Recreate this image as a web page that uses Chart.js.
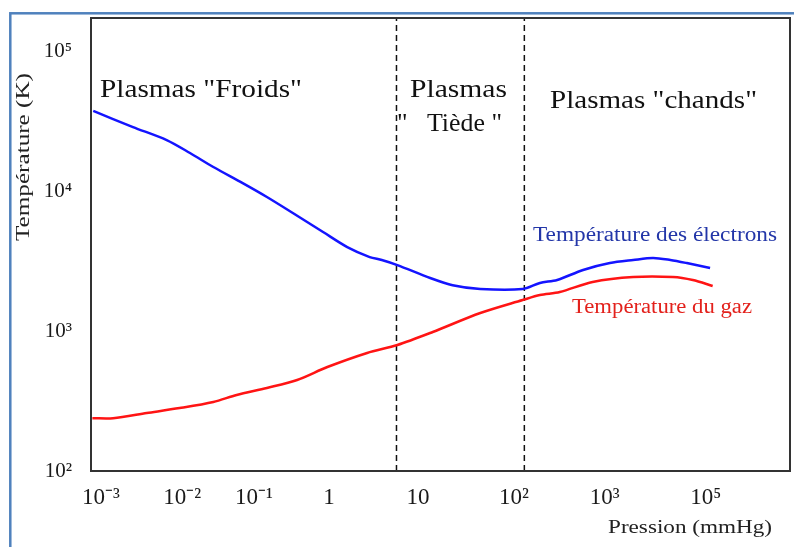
<!DOCTYPE html>
<html>
<head>
<meta charset="UTF-8">
<title>Températures des plasmas</title>
<script src="https://cdn.jsdelivr.net/npm/chart.js"></script>
<style>
  body { margin: 0; background: #fff; }
</style>
</head>
<body>
<canvas id="chart" width="794" height="547"></canvas>
<script>
// x = position along the pressure axis as drawn (0 = 10^-3, ticks are not evenly spaced)
const xTickPos = [0, 0.94, 1.77, 2.64, 3.67, 4.78, 5.83, 7.0];
const xTickLabels = ['10⁻³', '10⁻²', '10⁻¹', '1', '10', '10²', '10³', '10⁵'];
const yTicks = [100, 1000, 10000, 100000];
const yTickLabels = ['10²', '10³', '10⁴', '10⁵'];

// Température des électrons (K)
const elecX = [-0.09, 0.37, 0.76, 1.03, 1.30, 1.64, 1.92, 2.22, 2.57, 2.85, 3.11, 3.25, 3.43,
               3.81, 4.07, 4.39, 4.88, 5.08, 5.28, 5.58, 5.89, 6.16, 6.39, 6.59, 6.78, 7.05];
const elecT = [37800, 29000, 23400, 18900, 15000, 11500, 9150, 7030, 5140, 4010, 3400, 3240, 2980,
               2410, 2140, 2010, 2010, 2220, 2330, 2750, 3080, 3240, 3350, 3240, 3080, 2840];

// Température du gaz (K)
const gazX = [-0.10, 0.14, 0.53, 0.91, 1.30, 1.57, 1.92, 2.27, 2.62, 3.08, 3.43,
              3.84, 4.39, 4.88, 5.08, 5.31, 5.69, 6.16, 6.62, 6.85, 7.08];
const gazT = [239, 239, 260, 282, 312, 350, 393, 448, 555, 700, 798,
              989, 1352, 1675, 1820, 1911, 2254, 2447, 2447, 2328, 2110];

// frontières froid / tiède / chaud
const limits = [3.42, 4.90];

const xMin = -0.116, xMax = 7.975;
const yMin = 100, yMax = 175000;

const pts = (xs, ys) => xs.map((x, i) => ({ x: x, y: ys[i] }));
const serif = 'Liberation Serif, Times New Roman, serif';

function fitText(ctx, text, x, y, width, size, color, angle) {
  ctx.save();
  ctx.font = size + 'px ' + serif;
  ctx.fillStyle = color;
  ctx.textAlign = 'left';
  ctx.textBaseline = 'alphabetic';
  const w = ctx.measureText(text).width;
  ctx.translate(x, y);
  if (angle) ctx.rotate(angle);
  ctx.scale(width / w, 1);
  ctx.fillText(text, 0, 0);
  ctx.restore();
}

function noPad(s) {
  s.paddingTop = 0; s.paddingBottom = 0;
  s.paddingLeft = 0; s.paddingRight = 0;
}

const decor = {
  id: 'decor',
  beforeDraw(chart) {
    const ctx = chart.ctx;
    ctx.save();
    ctx.fillStyle = '#fff';
    ctx.fillRect(0, 0, chart.width, chart.height);
    ctx.strokeStyle = '#4f81bd';
    ctx.lineWidth = 2.5;
    ctx.strokeRect(10.3, 13.3, 800, 600);
    ctx.restore();
  },
  afterDraw(chart) {
    const ctx = chart.ctx;
    const a = chart.chartArea;
    ctx.save();
    ctx.strokeStyle = '#333';
    ctx.lineWidth = 2;
    ctx.strokeRect(a.left, a.top, a.right - a.left, a.bottom - a.top);
    ctx.restore();

    fitText(ctx, 'Plasmas "Froids"', 100, 97, 202, 26, '#111');
    fitText(ctx, 'Plasmas', 410, 97, 97, 26, '#111');
    fitText(ctx, '"   Tiède "', 397, 131, 105, 26, '#111');
    fitText(ctx, 'Plasmas "chands"', 550, 108, 207, 26, '#111');
    fitText(ctx, 'Température des électrons', 533, 241, 244, 20, '#2336a8');
    fitText(ctx, 'Température du gaz', 572, 313, 180, 20, '#e3211c');
    fitText(ctx, 'Pression (mmHg)', 608, 533, 164, 19, '#222');
    fitText(ctx, 'Température (K)', 29, 241, 168, 18, '#222', -Math.PI / 2);
  }
};

new Chart(document.getElementById('chart'), {
  type: 'line',
  data: {
    datasets: [
      { label: 'Température des électrons', data: pts(elecX, elecT),
        borderColor: '#1414ff', borderWidth: 2.5, pointRadius: 0, tension: 0.3 },
      { label: 'Température du gaz', data: pts(gazX, gazT),
        borderColor: '#ff1414', borderWidth: 2.5, pointRadius: 0, tension: 0.3 },
      { label: 'limite 1', data: [{ x: limits[0], y: yMin }, { x: limits[0], y: yMax }],
        borderColor: '#111', borderWidth: 1.5, borderDash: [6, 4], pointRadius: 0 },
      { label: 'limite 2', data: [{ x: limits[1], y: yMin }, { x: limits[1], y: yMax }],
        borderColor: '#111', borderWidth: 1.5, borderDash: [6, 4], pointRadius: 0 }
    ]
  },
  options: {
    responsive: false,
    animation: false,
    layout: { padding: { top: 18, right: 4, left: 0, bottom: 0 } },
    plugins: { legend: { display: false }, tooltip: { enabled: false } },
    scales: {
      x: {
        type: 'linear', min: xMin, max: xMax,
        grid: { display: false, drawTicks: false },
        border: { display: false },
        afterBuildTicks: s => { s.ticks = xTickPos.map(v => ({ value: v })); },
        afterFit: s => { s.height = 76; noPad(s); },
        ticks: {
          autoSkip: false, maxRotation: 0, padding: 13, color: '#1a1a1a',
          font: { family: serif, size: 23 },
          callback: (v, i) => xTickLabels[i]
        }
      },
      y: {
        type: 'logarithmic', min: yMin, max: yMax,
        grid: { display: false, drawTicks: false },
        border: { display: false },
        afterBuildTicks: s => { s.ticks = yTicks.map(v => ({ value: v })); },
        afterFit: s => { s.width = 91; noPad(s); },
        ticks: {
          padding: 19, color: '#1a1a1a',
          font: { family: serif, size: 21 },
          callback: (v, i) => yTickLabels[i]
        }
      }
    }
  },
  plugins: [decor]
});
</script>
</body>
</html>
